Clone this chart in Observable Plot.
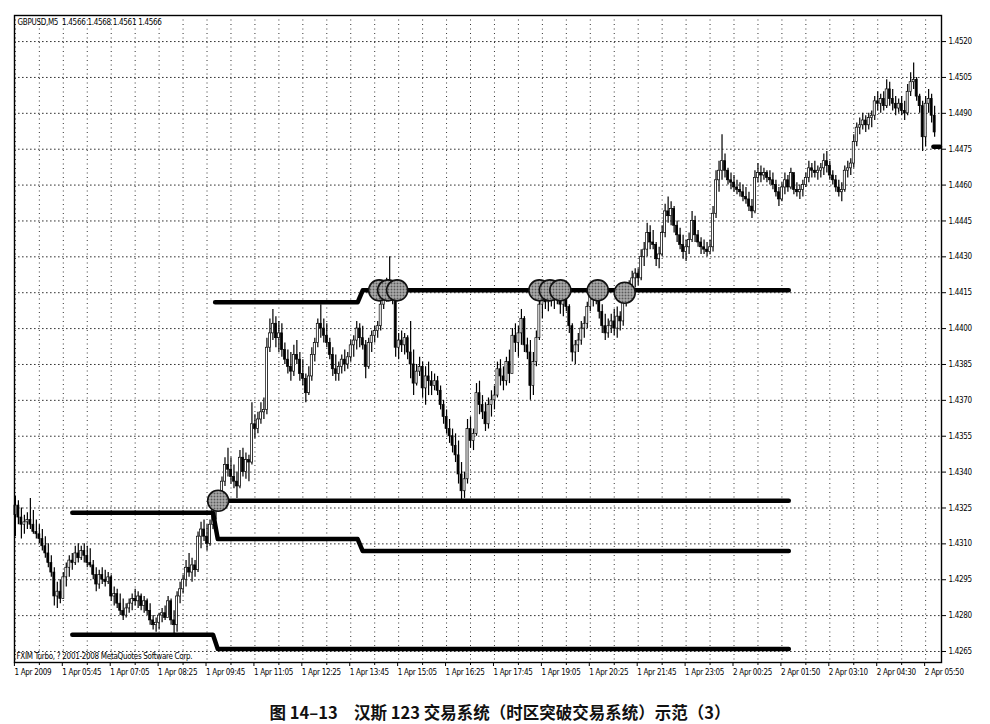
<!DOCTYPE html>
<html><head><meta charset="utf-8">
<script src="https://cdn.jsdelivr.net/npm/d3@7"></script>
<script src="https://cdn.jsdelivr.net/npm/@observablehq/plot@0.6"></script>
<style>
body{margin:0;background:#fff;}
#chart svg{display:block;}
#chart svg text{letter-spacing:-0.3px;}
#cap{font-family:"Noto Sans CJK SC",sans-serif;font-weight:bold;font-size:16.5px;line-height:22px;text-align:center;width:980px;padding-left:10px;margin-top:11px;color:#111;}
</style></head>
<body><div id="chart"></div><div id="cap">图 14–13　汉斯 123 交易系统（时区突破交易系统）示范（3）</div>
<script>
const header = "GBPUSD,M5  1.4566 1.4568 1.4561 1.4566";
const copyright = "FXIM Turbo, ? 2001-2008 MetaQuotes Software Corp.";
const xLabels = ["1 Apr 2009","1 Apr 05:45","1 Apr 07:05","1 Apr 08:25","1 Apr 09:45","1 Apr 11:05","1 Apr 12:25","1 Apr 13:45","1 Apr 15:05","1 Apr 16:25","1 Apr 17:45","1 Apr 19:05","1 Apr 20:25","1 Apr 21:45","1 Apr 23:05","2 Apr 00:25","2 Apr 01:50","2 Apr 03:10","2 Apr 04:30","2 Apr 05:50"];
const xLabelBars = [0,16,32,48,64,80,96,112,128,144,160,176,192,208,224,240,256,272,288,304];
const yTicks = [1.4265,1.4280,1.4295,1.4310,1.4325,1.4340,1.4355,1.4370,1.4385,1.4400,1.4415,1.4430,1.4445,1.4460,1.4475,1.4490,1.4505,1.4520];

const highs = [
1.4330,1.4328,1.4325,1.4322,1.4323,1.4329,1.4324,1.4320,1.4318,1.4316,1.4313,1.4310,1.4305,1.4300,1.4294,1.4295,1.4298,1.4302,1.4305,1.4306,1.4309,1.4310,1.4309,1.4310,1.4309,
1.4308,1.4303,1.4300,1.4299,1.4300,1.4299,1.4298,1.4297,1.4292,1.4291,1.4289,1.4287,1.4285,1.4287,1.4289,1.4291,1.4290,1.4289,1.4288,1.4287,1.4285,1.4280,1.4279,1.4281,1.4283,1.4284,1.4288,1.4287,1.4282,1.4290,1.4294,1.4297,1.4303,1.4306,1.4304,1.4303,1.4315,1.4319,1.4320,1.4318,1.4320,1.4326,1.4329,1.4331,
1.4338,1.4346,1.4350,1.4346,1.4343,1.4340,1.4349,1.4350,1.4348,1.4347,
1.4369,1.4364,1.4365,1.4369,1.4371,1.4396,1.4404,1.4408,1.4405,1.4403,
1.4402,1.4394,1.4391,1.4390,1.4393,1.4395,1.4390,1.4387,1.4381,1.4384,
1.4392,1.4396,1.4404,1.4410,1.4404,1.4402,1.4396,1.4392,1.4389,1.4386,
1.4389,1.4391,1.4390,1.4395,1.4397,1.4403,1.4402,1.4401,1.4395,1.4396,
1.4399,1.4401,1.4403,1.4412,1.4418,1.4421,1.4430,1.4420,1.4414,1.4398,
1.4399,1.4398,1.4397,1.4403,1.4391,1.4385,1.4388,1.4386,1.4384,1.4386,
1.4382,1.4381,1.4380,1.4376,1.4370,1.4366,1.4362,
1.4358,1.4356,1.4353,1.4344,1.4340,1.4362,1.4363,1.4358,1.4377,1.4378,
1.4372,1.4369,1.4371,1.4374,1.4376,1.4386,1.4387,1.4384,1.4388,1.4391,
1.4400,1.4402,1.4401,1.4408,1.4405,1.4396,1.4395,1.4390,1.4399,1.4413,
1.4416,1.4419,1.4418,1.4420,1.4418,1.4419,1.4418,1.4416,1.4417,1.4410,
1.4402,1.4395,1.4398,1.4403,1.4405,1.4411,1.4417,1.4418,1.4420,1.4418,
1.4410,1.4406,1.4404,1.4406,1.4408,1.4409,1.4407,1.4415,1.4418,1.4420,
1.4424,1.4425,1.4425,1.4433,1.4436,
1.4444,1.4443,1.4441,1.4436,1.4434,1.4443,1.4452,1.4455,1.4453,1.4451,
1.4445,1.4442,1.4439,1.4437,1.4440,1.4449,1.4447,1.4441,1.4438,1.4437,
1.4436,1.4437,1.4451,1.4466,1.4470,1.4481,1.4473,1.4467,1.4465,1.4464,
1.4462,1.4461,1.4460,1.4459,1.4457,1.4454,1.4466,1.4469,1.4468,1.4467,
1.4466,1.4466,1.4465,1.4462,1.4459,1.4461,1.4465,1.4464,1.4467,1.4464,
1.4461,1.4460,1.4462,1.4465,1.4470,1.4469,1.4470,1.4468,1.4469,1.4473,
1.4474,1.4470,1.4466,1.4464,1.4462,1.4461,1.4468,1.4470,1.4471,1.4481,
1.4486,1.4488,1.4490,1.4489,1.4490,1.4491,1.4497,1.4499,1.4498,1.4499,
1.4504,1.4503,1.4500,1.4497,1.4496,1.4497,1.4495,1.4502,1.4507,1.4511,
1.4505,1.4498,1.4495,1.4497,1.4500,1.4498,1.4493];

const lows = [
1.4313,1.4318,1.4312,1.4314,1.4316,1.4316,1.4314,1.4312,1.4310,1.4307,1.4304,1.4300,1.4296,1.4284,1.4283,1.4285,1.4287,1.4292,1.4296,1.4299,1.4301,1.4302,1.4303,1.4302,1.4300,
1.4300,1.4295,1.4290,1.4291,1.4293,1.4292,1.4293,1.4286,1.4284,1.4283,1.4280,1.4278,1.4279,1.4281,1.4282,1.4284,1.4283,1.4282,1.4281,1.4280,1.4276,1.4274,1.4273,1.4274,1.4277,1.4278,1.4280,1.4276,1.4272,1.4273,1.4285,1.4289,1.4292,1.4296,1.4294,1.4296,1.4298,1.4308,1.4311,1.4307,1.4309,1.4316,1.4320,1.4324,
1.4330,1.4334,1.4338,1.4335,1.4333,1.4329,1.4333,1.4338,1.4337,1.4336,
1.4343,1.4354,1.4356,1.4360,1.4362,1.4364,1.4390,1.4395,1.4392,1.4390,
1.4388,1.4385,1.4381,1.4378,1.4380,1.4385,1.4378,1.4376,1.4369,1.4372,
1.4378,1.4386,1.4392,1.4396,1.4394,1.4392,1.4387,1.4380,1.4378,1.4378,
1.4381,1.4382,1.4383,1.4386,1.4388,1.4391,1.4392,1.4391,1.4379,1.4383,
1.4390,1.4394,1.4396,1.4399,1.4408,1.4411,1.4412,1.4410,1.4388,1.4387,
1.4390,1.4389,1.4387,1.4379,1.4372,1.4376,1.4380,1.4371,1.4368,1.4372,
1.4372,1.4374,1.4372,1.4366,1.4360,1.4356,1.4352,
1.4348,1.4344,1.4335,1.4328,1.4329,1.4335,1.4350,1.4349,1.4355,1.4364,
1.4362,1.4357,1.4358,1.4363,1.4366,1.4371,1.4376,1.4374,1.4376,1.4377,
1.4383,1.4390,1.4388,1.4393,1.4390,1.4387,1.4370,1.4372,1.4384,1.4395,
1.4404,1.4408,1.4407,1.4409,1.4408,1.4410,1.4406,1.4405,1.4407,1.4398,
1.4386,1.4385,1.4390,1.4393,1.4396,1.4400,1.4407,1.4409,1.4410,1.4404,
1.4398,1.4395,1.4396,1.4398,1.4397,1.4396,1.4399,1.4401,1.4409,1.4412,
1.4415,1.4417,1.4418,1.4420,1.4426,
1.4430,1.4433,1.4433,1.4426,1.4425,1.4430,1.4438,1.4444,1.4443,1.4440,
1.4436,1.4433,1.4429,1.4428,1.4431,1.4436,1.4436,1.4434,1.4431,1.4431,
1.4430,1.4431,1.4432,1.4446,1.4457,1.4462,1.4463,1.4460,1.4458,1.4457,
1.4456,1.4455,1.4453,1.4452,1.4449,1.4446,1.4448,1.4461,1.4461,1.4462,
1.4461,1.4460,1.4458,1.4455,1.4451,1.4453,1.4456,1.4457,1.4458,1.4456,
1.4455,1.4454,1.4455,1.4459,1.4461,1.4463,1.4463,1.4462,1.4463,1.4464,
1.4465,1.4462,1.4460,1.4457,1.4455,1.4453,1.4457,1.4463,1.4464,1.4467,
1.4476,1.4481,1.4483,1.4482,1.4483,1.4484,1.4487,1.4491,1.4490,1.4491,
1.4492,1.4493,1.4491,1.4489,1.4490,1.4489,1.4487,1.4489,1.4497,1.4500,
1.4495,1.4490,1.4474,1.4476,1.4490,1.4486,1.4480];

const closes = [
1.4326,1.4321,1.4318,1.4319,1.4320,1.4318,1.4315,1.4314,1.4312,1.4309,1.4306,1.4302,1.4298,1.4288,1.4290,1.4287,1.4296,1.4300,1.4303,1.4302,1.4306,1.4304,1.4307,1.4305,1.4302,
1.4301,1.4297,1.4293,1.4297,1.4295,1.4294,1.4296,1.4288,1.4289,1.4285,1.4282,1.4280,1.4283,1.4285,1.4287,1.4286,1.4288,1.4284,1.4286,1.4282,1.4278,1.4276,1.4277,1.4280,1.4281,1.4279,1.4286,1.4278,1.4276,1.4288,1.4291,1.4295,1.4300,1.4298,1.4301,1.4299,1.4313,1.4316,1.4313,1.4310,1.4318,1.4324,1.4327,1.4329,
1.4336,1.4343,1.4341,1.4338,1.4336,1.4334,1.4346,1.4340,1.4345,1.4344,
1.4360,1.4358,1.4362,1.4365,1.4366,1.4392,1.4398,1.4402,1.4396,1.4398,
1.4391,1.4387,1.4384,1.4382,1.4389,1.4387,1.4381,1.4379,1.4373,1.4380,
1.4389,1.4394,1.4402,1.4400,1.4397,1.4394,1.4389,1.4383,1.4381,1.4384,
1.4387,1.4385,1.4388,1.4393,1.4395,1.4400,1.4396,1.4393,1.4384,1.4394,
1.4397,1.4399,1.4401,1.4410,1.4414,1.4416,1.4418,1.4413,1.4392,1.4395,
1.4393,1.4396,1.4390,1.4385,1.4377,1.4382,1.4384,1.4375,1.4380,1.4378,
1.4376,1.4378,1.4374,1.4368,1.4363,1.4358,1.4355,
1.4351,1.4347,1.4339,1.4332,1.4337,1.4358,1.4353,1.4356,1.4373,1.4368,
1.4365,1.4360,1.4368,1.4370,1.4372,1.4383,1.4380,1.4378,1.4386,1.4381,
1.4397,1.4394,1.4398,1.4404,1.4393,1.4390,1.4376,1.4386,1.4396,1.4410,
1.4413,1.4411,1.4414,1.4412,1.4415,1.4413,1.4410,1.4413,1.4409,1.4401,
1.4390,1.4393,1.4395,1.4400,1.4402,1.4409,1.4414,1.4412,1.4416,1.4407,
1.4401,1.4398,1.4401,1.4403,1.4400,1.4405,1.4403,1.4413,1.4416,1.4418,
1.4421,1.4423,1.4421,1.4430,1.4433,
1.4440,1.4436,1.4435,1.4429,1.4431,1.4440,1.4449,1.4447,1.4450,1.4443,
1.4439,1.4435,1.4432,1.4434,1.4437,1.4445,1.4439,1.4436,1.4434,1.4433,
1.4432,1.4434,1.4448,1.4462,1.4466,1.4470,1.4466,1.4462,1.4461,1.4459,
1.4458,1.4457,1.4455,1.4454,1.4451,1.4449,1.4463,1.4465,1.4464,1.4465,
1.4463,1.4462,1.4460,1.4457,1.4454,1.4459,1.4462,1.4459,1.4465,1.4458,
1.4457,1.4458,1.4460,1.4463,1.4467,1.4466,1.4465,1.4466,1.4467,1.4470,
1.4468,1.4464,1.4462,1.4459,1.4457,1.4458,1.4466,1.4467,1.4469,1.4478,
1.4484,1.4485,1.4487,1.4485,1.4488,1.4489,1.4495,1.4494,1.4496,1.4493,
1.4500,1.4496,1.4494,1.4492,1.4494,1.4491,1.4490,1.4499,1.4503,1.4504,
1.4497,1.4493,1.4480,1.4494,1.4496,1.4489,1.4482];
const firstOpen = 1.4322;

// horizontal breakout levels (bar index, price)
const levelA_bars = [66.7,114.3,116,258.3], levelA_prices = [1.4411,1.4411,1.4416,1.4416];
const levelB_bars = [67.7,258.3],           levelB_prices = [1.4328,1.4328];
const levelC_bars = [19,66,67.6,114.3,116,258.3], levelC_prices = [1.4323,1.4323,1.4312,1.4312,1.4307,1.4307];
const levelD_bars = [19,66,67.6,258.3],     levelD_prices = [1.4272,1.4272,1.4266,1.4266];
const bidBars = [306.6,308.8], bidPrices = [1.4476,1.4476];

// signal circles
const signalBars   = [67.7,121.5,124.5,127.5,175,178.5,182,194.5,203.5];
const signalPrices = [1.4328,1.4416,1.4416,1.4416,1.4416,1.4416,1.4416,1.4416,1.4415];

const n = Math.min(highs.length, lows.length, closes.length);
const bars = [];
for (let i = 0; i < n; i++) bars.push({i, high: highs[i], low: lows[i], close: closes[i], open: i === 0 ? firstOpen : closes[i-1]});

const levels = [];
[[levelA_bars,levelA_prices,"A"],[levelB_bars,levelB_prices,"B"],[levelC_bars,levelC_prices,"C"],[levelD_bars,levelD_prices,"D"],[bidBars,bidPrices,"E"]]
  .forEach(([xs,ys,id]) => xs.forEach((x,k) => levels.push({id, x, y: ys[k]})));
const signals = signalBars.map((x,k) => ({x, y: signalPrices[k]}));

const minorBars = d3.range(8, 309, 16);
const allGridBars = d3.range(0, 309, 8);

const narrow = '"Liberation Sans Narrow","DejaVu Sans Condensed","Arial Narrow",sans-serif';

const chart = Plot.plot({
  width: 990, height: 690,
  marginLeft: 14, marginRight: 49, marginTop: 15, marginBottom: 28,
  x: {domain: [-0.3, 309.3], axis: null},
  y: {domain: [1.42604, 1.45309], axis: null},
  style: {fontFamily: narrow, fontSize: "8px", color: "black", background: "white", fontStretch: "condensed"},
  marks: [
    Plot.gridX(allGridBars, {stroke: "black", strokeOpacity: 0.8, strokeDasharray: "1,3.5"}),
    Plot.gridY(yTicks, {stroke: "black", strokeOpacity: 0.8, strokeDasharray: "1.6,2.4"}),
    Plot.axisY(yTicks, {anchor: "right", tickSize: 4, tickPadding: 3, fontSize: 8, tickFormat: d => d.toFixed(4)}),
    Plot.axisX(xLabelBars, {anchor: "bottom", tickSize: 4, tickPadding: 3, fontSize: 8, textAnchor: "start", dx: -1,
      tickFormat: d => xLabels[xLabelBars.indexOf(d)]}),
    Plot.axisX(minorBars, {anchor: "bottom", tickSize: 3, tickFormat: () => ""}),
    Plot.ruleX(bars, {x: "i", y1: "low", y2: "high", stroke: "black", strokeWidth: 1.2}),
    Plot.rect(bars, {x1: d => d.i - 0.34, x2: d => d.i + 0.34, y1: "open", y2: "close",
      fill: d => d.close >= d.open ? "white" : "black", stroke: "black", strokeWidth: 0.7}),
    Plot.line(levels, {x: "x", y: "y", z: "id", stroke: "black", strokeWidth: 4.5, strokeLinecap: "round"}),
    Plot.dot(signals, {x: "x", y: "y", r: 10.5, fill: "url(#stipple)", stroke: "#111", strokeWidth: 1.6}),
    Plot.text([header], {frameAnchor: "top-left", dx: 3, dy: 4, text: d => d, fontSize: 8, textAnchor: "start"}),
    Plot.text([copyright], {frameAnchor: "bottom-left", dx: 2, dy: -4, text: d => d, fontSize: 8, textAnchor: "start"}),
    Plot.frame({stroke: "black", strokeWidth: 1.4})
  ]
});

d3.select(chart).insert("defs", ":first-child").html(
  '<pattern id="stipple" width="3" height="3" patternUnits="userSpaceOnUse">' +
  '<rect width="3" height="3" fill="#bdbdbd"/><circle cx="1" cy="1" r="0.9" fill="#2a2a2a"/></pattern>');

document.getElementById("chart").appendChild(chart);
</script></body></html>
